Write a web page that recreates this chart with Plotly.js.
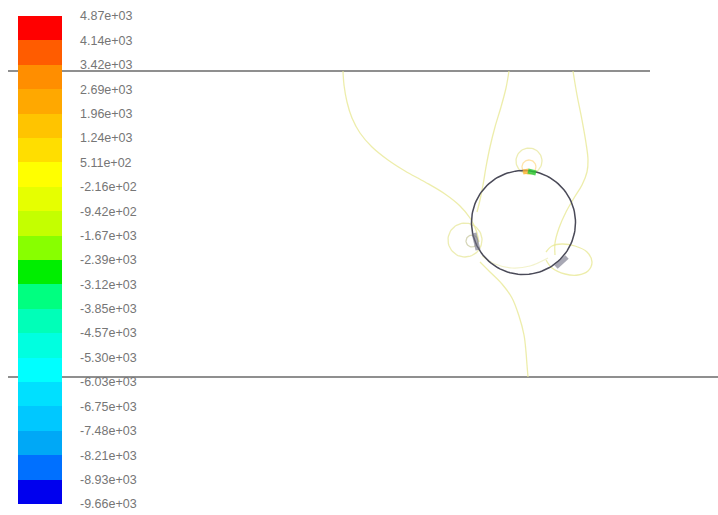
<!DOCTYPE html>
<html>
<head>
<meta charset="utf-8">
<script src="https://cdn.plot.ly/plotly-3.0.1.min.js"></script>
<style>html,body{margin:0;padding:0;background:#fff;}#chart{width:718px;height:515px;}</style>
</head>
<body>
<div id="chart"></div>
<script>
// ---- colour legend (top to bottom) ----
const levelLabels = ['4.87e+03','4.14e+03','3.42e+03','2.69e+03','1.96e+03','1.24e+03','5.11e+02','-2.16e+02','-9.42e+02','-1.67e+03','-2.39e+03','-3.12e+03','-3.85e+03','-4.57e+03','-5.30e+03','-6.03e+03','-6.75e+03','-7.48e+03','-8.21e+03','-8.93e+03','-9.66e+03'];
const levelValues = levelLabels.map(Number);
const bandColors = ['#ff0000','#ff5c00','#ff8e00','#ffa800','#ffc400','#ffde00','#ffff00','#e6ff00','#c4ff00','#88ff00','#00ee00','#00ff80','#00ffb8','#00ffe0','#00ffff','#00e0ff','#00c8ff','#00a8f6','#0070ff','#0000ee'];

// ---- geometry (pixel-space domain) ----
const wallTopX = [8, 650],  wallTopY = [71, 71];
const wallBotX = [8, 718],  wallBotY = [377, 377];
const cylinder = {cx: 523.5, cy: 222.5, r: 52};

const contourAX = [343,344,347,352,360,372,388,405,425,445,460,470,476,479];
const contourAY = [71,85,102,118,133,147,160,171,182,194,206,218,230,242];
const contourBX = [509,506,501,495,490,486,483,480,477];
const contourBY = [71,88,107,127,147,167,185,200,212];
const contourCX = [573,577,582,586,588,587,582,574,566,559,555,555];
const contourCY = [71,95,120,143,160,172,185,198,212,228,243,255];
const contourDX = [480,490,502,512,519,524,526,527,528];
const contourDY = [262,272,284,298,316,335,352,365,377];
const loopRightX = [546,552,562,575,587,592,588,578,565,552,546];
const loopRightY = [252,246,244,246,252,262,271,275,274,268,260];
const innerLineX = [482,495,512,530,548];
const innerLineY = [256,264,268,266,258];

const rings = [
  {cx: 529, cy: 161, r: 13, color: 'rgba(232,232,160,0.8)'},
  {cx: 529, cy: 167, r: 7,  color: 'rgba(255,205,100,0.55)'},
  {cx: 465, cy: 240, r: 17, color: 'rgba(232,232,160,0.8)'},
  {cx: 472, cy: 241, r: 6,  color: 'rgba(200,200,160,0.75)'}
];
const markX = [[474,478],[556,567],[523,529],[528,536]];
const markY = [[233,250],[267,257],[172,171],[171,173]];
const markColors = ['rgba(110,110,130,0.6)','rgba(110,110,130,0.6)','rgba(255,180,50,0.75)','rgba(40,200,50,0.8)'];

const contourColor = 'rgba(232,232,150,0.8)';

const traces = [];
function line(x, y, color, width, shape){
  traces.push({type:'scatter', mode:'lines', x:x, y:y, hoverinfo:'skip', showlegend:false,
    line:{color:color, width:width, shape:shape||'linear', smoothing:1}});
}
line(wallTopX, wallTopY, '#6a6a6a', 1.6);
line(wallBotX, wallBotY, '#6a6a6a', 1.6);
line(contourAX, contourAY, contourColor, 1.3, 'spline');
line(contourBX, contourBY, contourColor, 1.3, 'spline');
line(contourCX, contourCY, contourColor, 1.3, 'spline');
line(contourDX, contourDY, contourColor, 1.3, 'spline');
line(loopRightX, loopRightY, contourColor, 1.3, 'spline');
line(innerLineX, innerLineY, 'rgba(235,235,175,0.65)', 1.1, 'spline');

function ringPath(c, n){
  const xs=[], ys=[];
  for(let i=0;i<=n;i++){const t=2*Math.PI*i/n; xs.push(c.cx+c.r*Math.cos(t)); ys.push(c.cy+c.r*Math.sin(t));}
  return [xs, ys];
}
rings.forEach(rg => { const p = ringPath(rg, 60); line(p[0], p[1], rg.color, 1.3); });
const cyl = ringPath(cylinder, 120);
line(cyl[0], cyl[1], '#4a4a58', 1.5);
markX.forEach((mx,i) => line(mx, markY[i], markColors[i], 5));

// colour legend via a hidden trace's colorbar
const nb = bandColors.length;
const colorscale = [];
bandColors.slice().reverse().forEach((c,i) => { colorscale.push([i/nb, c]); colorscale.push([(i+1)/nb, c]); });
traces.push({type:'scatter', mode:'markers', x:[-50,-50], y:[-50,-50], hoverinfo:'skip', showlegend:false,
  marker:{size:1, opacity:0, color:[Math.min(...levelValues), Math.max(...levelValues)],
    cmin: Math.min(...levelValues), cmax: Math.max(...levelValues), colorscale: colorscale, showscale:true,
    colorbar:{x:18/718, xanchor:'left', y:1-16/515, yanchor:'top', len:488, lenmode:'pixels',
      thickness:44, thicknessmode:'pixels', xpad:0, ypad:0, outlinewidth:0,
      tickvals: levelValues, ticktext: levelLabels, ticks:'outside', ticklen:16, tickcolor:'rgba(0,0,0,0)',
      tickfont:{family:'Liberation Sans, Arial, sans-serif', size:12.5, color:'#767676'}}}});

const layout = {
  width:718, height:515, margin:{l:0,r:0,t:0,b:0, autoexpand:false},
  paper_bgcolor:'#ffffff', plot_bgcolor:'#ffffff',
  xaxis:{range:[0,718], visible:false, fixedrange:true},
  yaxis:{range:[515,0], visible:false, fixedrange:true},
  showlegend:false
};
Plotly.newPlot('chart', traces, layout, {staticPlot:true, displayModeBar:false});
</script>
</body>
</html>
